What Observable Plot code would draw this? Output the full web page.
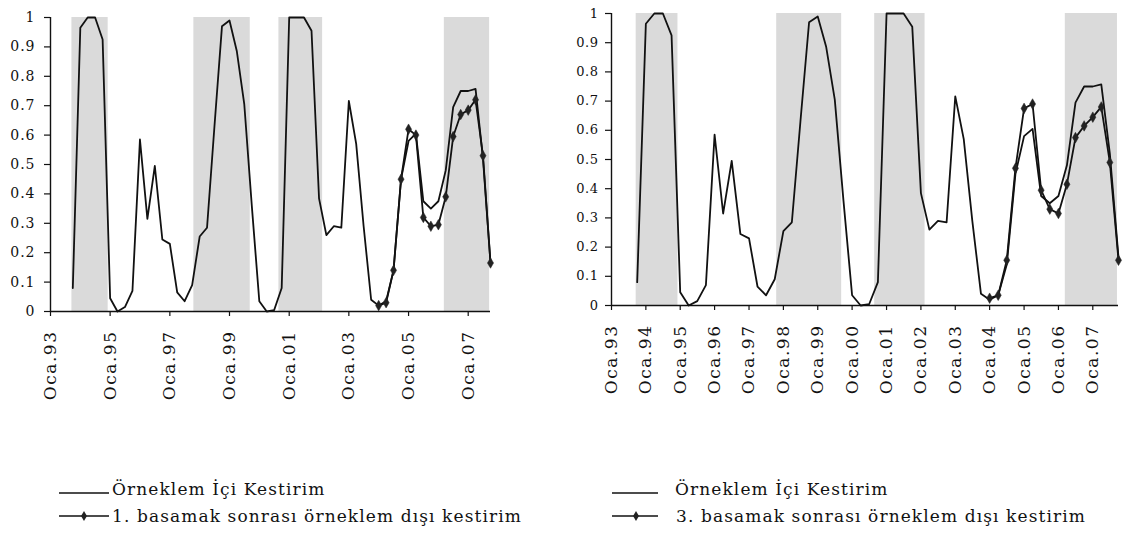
<!DOCTYPE html>
<html>
<head>
<meta charset="utf-8">
<script src="https://cdn.jsdelivr.net/npm/d3@7"></script>
<script src="https://cdn.jsdelivr.net/npm/@observablehq/plot@0.6"></script>
<style>
  body { margin: 0; background: #fff; }
  #root { position: relative; width: 1129px; height: 535px; overflow: hidden; font-family: "DejaVu Serif", serif; color: #111; }
  .chart { position: absolute; top: 0; }
  .chart svg { overflow: visible; }
  #left g[aria-label="y-axis tick label"] text { letter-spacing: 1px; }
  #right g[aria-label="y-axis tick label"] text { letter-spacing: 0.5px; }
  g[aria-label="x-axis tick label"] text { letter-spacing: 1.5px; }
  .legrow { position: absolute; white-space: nowrap; font-size: 17px; letter-spacing: 1.1px; line-height: 20px; height: 20px; color: #111; }
  .legrow svg { position: absolute; top: 0; }
  .legrow span { position: absolute; top: 0; }
</style>
</head>
<body>
<div id="root"></div>
<script>
// ---- data ----
const quarters = [
  "1993-10-01",
  "1994-01-01","1994-04-01","1994-07-01","1994-10-01",
  "1995-01-01","1995-04-01","1995-07-01","1995-10-01",
  "1996-01-01","1996-04-01","1996-07-01","1996-10-01",
  "1997-01-01","1997-04-01","1997-07-01","1997-10-01",
  "1998-01-01","1998-04-01","1998-07-01","1998-10-01",
  "1999-01-01","1999-04-01","1999-07-01","1999-10-01",
  "2000-01-01","2000-04-01","2000-07-01","2000-10-01",
  "2001-01-01","2001-04-01","2001-07-01","2001-10-01",
  "2002-01-01","2002-04-01","2002-07-01","2002-10-01",
  "2003-01-01","2003-04-01","2003-07-01","2003-10-01",
  "2004-01-01","2004-04-01","2004-07-01","2004-10-01",
  "2005-01-01","2005-04-01","2005-07-01","2005-10-01",
  "2006-01-01","2006-04-01","2006-07-01","2006-10-01",
  "2007-01-01","2007-04-01","2007-07-01","2007-10-01"
];
const inSample = [
  0.08,
  0.965, 1.0, 1.0, 0.925,
  0.045, 0.0, 0.015, 0.07,
  0.585, 0.315, 0.495, 0.245,
  0.23, 0.065, 0.035, 0.09,
  0.255, 0.285, 0.63, 0.97,
  0.99, 0.885, 0.705, 0.36,
  0.035, 0.0, 0.005, 0.08,
  1.0, 1.0, 1.0, 0.955,
  0.385, 0.26, 0.29, 0.285,
  0.716, 0.57, 0.29, 0.04,
  0.02, 0.035, 0.14, 0.45,
  0.58, 0.605, 0.375, 0.35,
  0.375, 0.48, 0.695, 0.75,
  0.75, 0.757, 0.52, 0.165
];
const oosQuarters = [
  "2004-01-01","2004-04-01","2004-07-01","2004-10-01",
  "2005-01-01","2005-04-01","2005-07-01","2005-10-01",
  "2006-01-01","2006-04-01","2006-07-01","2006-10-01",
  "2007-01-01","2007-04-01","2007-07-01","2007-10-01"
];
const oos1Step = [0.02, 0.03, 0.14, 0.45, 0.62, 0.60, 0.32, 0.29, 0.295, 0.39, 0.595, 0.67, 0.685, 0.72, 0.53, 0.165];
const oos3Step = [0.025, 0.035, 0.155, 0.47, 0.675, 0.69, 0.395, 0.33, 0.315, 0.415, 0.575, 0.615, 0.645, 0.68, 0.49, 0.155];

const shadeStart = ["1993-09-20", "1997-10-22", "2000-08-28", "2006-03-15"];
const shadeEnd   = ["1994-12-08", "1999-09-12", "2002-02-14", "2007-09-20"];

const yTicks = [0, 0.1, 0.2, 0.3, 0.4, 0.5, 0.6, 0.7, 0.8, 0.9, 1];
const yTickLabels = ["0", "0.1", "0.2", "0.3", "0.4", "0.5", "0.6", "0.7", "0.8", "0.9", "1"];

const leftTickDates = ["1993-01-01","1995-01-01","1997-01-01","1999-01-01","2001-01-01","2003-01-01","2005-01-01","2007-01-01"];
const leftTickLabels = ["Oca.93","Oca.95","Oca.97","Oca.99","Oca.01","Oca.03","Oca.05","Oca.07"];
const rightTickDates = ["1993-01-01","1994-01-01","1995-01-01","1996-01-01","1997-01-01","1998-01-01","1999-01-01","2000-01-01","2001-01-01","2002-01-01","2003-01-01","2004-01-01","2005-01-01","2006-01-01","2007-01-01"];
const rightTickLabels = ["Oca.93","Oca.94","Oca.95","Oca.96","Oca.97","Oca.98","Oca.99","Oca.00","Oca.01","Oca.02","Oca.03","Oca.04","Oca.05","Oca.06","Oca.07"];

const xDomain = ["1993-01-01", "2007-10-01"];

const seriesInName = "Örneklem İçi Kestirim";
const seriesOos1Name = "1. basamak sonrası örneklem dışı kestirim";
const seriesOos3Name = "3. basamak sonrası örneklem dışı kestirim";

// ---- build ----
const parse = s => new Date(s + "T00:00:00Z");
const inData = quarters.map((q, i) => ({date: parse(q), v: inSample[i]}));
const shades = shadeStart.map((s, i) => ({start: parse(s), end: parse(shadeEnd[i])}));

function chart(cfg) {
  const oosData = oosQuarters.map((q, i) => ({date: parse(q), v: cfg.oos[i]}));
  const tickDates = cfg.tickDates.map(parse);
  const x0 = parse(xDomain[0]);
  return Plot.plot({
    width: cfg.width,
    height: 410,
    marginLeft: cfg.marginLeft,
    marginRight: cfg.marginRight,
    marginTop: cfg.marginTop,
    marginBottom: 410 - cfg.zeroY,
    style: {fontFamily: '"DejaVu Serif", serif', color: "#111", background: "transparent"},
    x: {type: "utc", domain: xDomain.map(parse), label: null},
    y: {domain: [0, 1], label: null},
    marks: [
      Plot.rect(shades, {x1: "start", x2: "end", y1: 0, y2: 1, fill: "#dadada"}),
      Plot.ruleY([0], {stroke: "#111", strokeWidth: 1.4}),
      Plot.ruleX([x0], {y1: 0, y2: 1, stroke: "#111", strokeWidth: 1.4}),
      Plot.axisY({
        ticks: yTicks, label: null,
        tickFormat: d => yTickLabels[yTicks.indexOf(d)],
        tickSize: 6, tickPadding: cfg.yPad, fontSize: cfg.yFont, stroke: "#111", strokeWidth: 1.2
      }),
      Plot.axisX({
        ticks: tickDates, label: null,
        tickFormat: d => cfg.tickLabels[tickDates.findIndex(t => +t === +d)],
        tickRotate: -90, tickSize: 5, tickPadding: 14, fontSize: 17, stroke: "#111", strokeWidth: 1.2
      }),
      Plot.line(inData, {x: "date", y: "v", stroke: "#111", strokeWidth: 1.8}),
      Plot.line(oosData, {x: "date", y: "v", stroke: "#111", strokeWidth: 1.8}),
      Plot.dot(oosData, {x: "date", y: "v", symbol: "diamond", r: 3.2, fill: "#222", stroke: "#222", strokeWidth: 0.5})
    ]
  });
}

const root = document.getElementById("root");

function place(id, left, svg) {
  const d = document.createElement("div");
  d.className = "chart"; d.id = id; d.style.left = left + "px";
  d.appendChild(svg);
  root.appendChild(d);
}

place("left", 0, chart({
  width: 500, marginLeft: 50, marginRight: 10, marginTop: 17, zeroY: 311,
  oos: oos1Step, tickDates: leftTickDates, tickLabels: leftTickLabels, yFont: 14, yPad: 9
}));
place("right", 560, chart({
  width: 569, marginLeft: 51, marginRight: 11, marginTop: 13, zeroY: 305,
  oos: oos3Step, tickDates: rightTickDates, tickLabels: rightTickLabels, yFont: 13, yPad: 7
}));

function legendRow(left, top, lineX1, lineX2, markerX, textX, label, withMarker) {
  const row = document.createElement("div");
  row.className = "legrow";
  row.style.left = left + "px";
  row.style.top = top + "px";
  const w = lineX2 + 4;
  const ly = withMarker ? 10 : 14;
  let s = `<svg width="${w}" height="20" viewBox="0 0 ${w} 20"><line x1="${lineX1}" x2="${lineX2}" y1="${ly}" y2="${ly}" stroke="#111" stroke-width="1.6"/>`;
  if (withMarker) {
    s += `<path d="${d3.symbol(d3.symbolDiamond, 30)()}" transform="translate(${markerX},10)" fill="#222"/>`;
  }
  s += `</svg><span style="left:${textX}px">${label}</span>`;
  row.innerHTML = s;
  root.appendChild(row);
}
legendRow(0, 479, 59, 109, 84, 112, seriesInName, false);
legendRow(0, 506, 59, 109, 84, 112, seriesOos1Name, true);
legendRow(570, 479, 42, 88, 66, 105, seriesInName, false);
legendRow(570, 506, 42, 88, 66, 106, seriesOos3Name, true);
</script>
</body>
</html>
